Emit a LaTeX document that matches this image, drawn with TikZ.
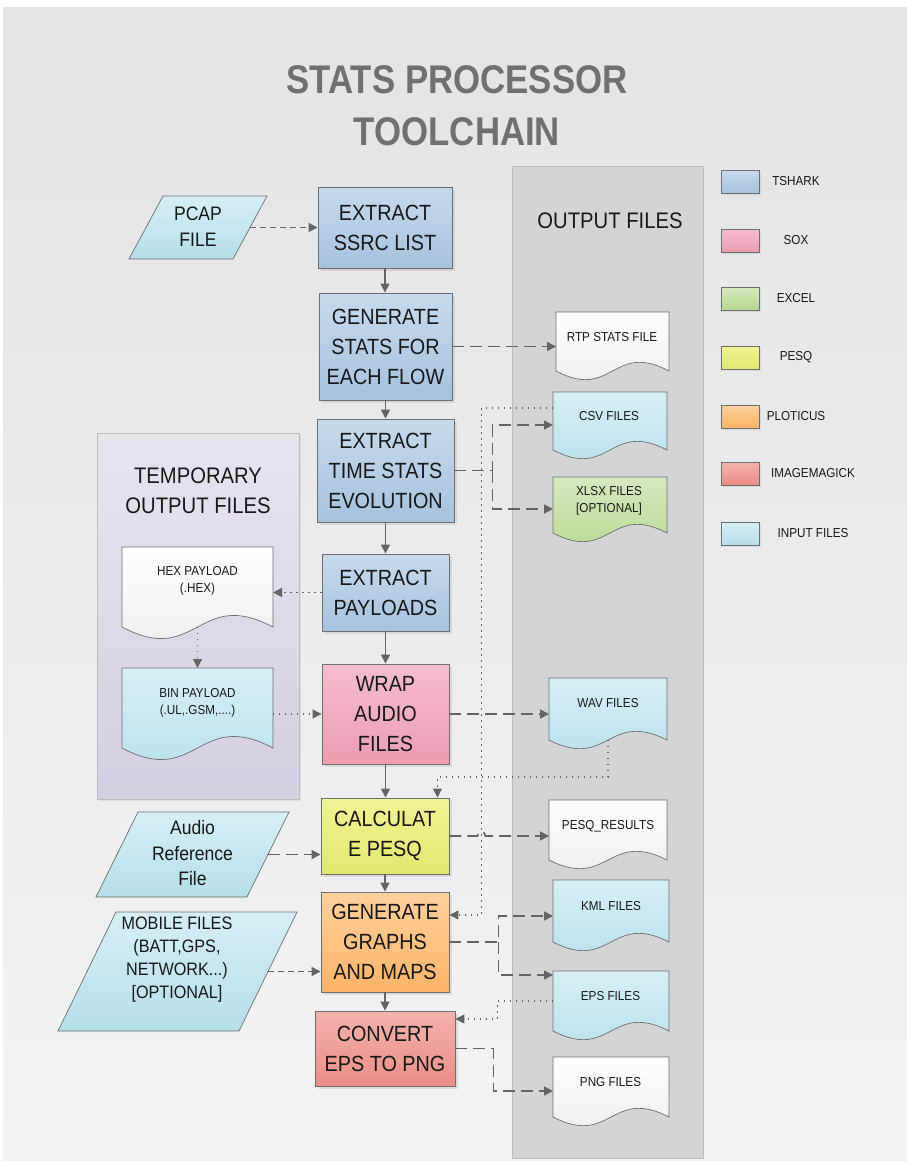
\documentclass[tikz,border=0pt]{standalone}
\usepackage{fontspec}
\setmainfont{Liberation Sans}[FakeStretch=0.9]
\newfontfamily\titlefont{Liberation Sans}[FakeStretch=0.87]
\usetikzlibrary{arrows.meta,calc,shadows}

\definecolor{bgtop}{HTML}{E3E4E6}
\definecolor{bgbot}{HTML}{F3F3F4}
\definecolor{ink}{HTML}{181818}
\definecolor{titlegray}{HTML}{707070}
\definecolor{linegray}{HTML}{646464}
\definecolor{edge}{HTML}{6E6E6E}
\definecolor{tsharkA}{HTML}{C6DAED}
\definecolor{tsharkB}{HTML}{A6C2DD}
\definecolor{soxA}{HTML}{F5BDCB}
\definecolor{soxB}{HTML}{EB9EB0}
\definecolor{excelA}{HTML}{D7E9BF}
\definecolor{excelB}{HTML}{B4D78C}
\definecolor{pesqA}{HTML}{F1F393}
\definecolor{pesqB}{HTML}{E2E76E}
\definecolor{plotA}{HTML}{FED19D}
\definecolor{plotB}{HTML}{FDB366}
\definecolor{magickA}{HTML}{F4B2AC}
\definecolor{magickB}{HTML}{EA8E86}
\definecolor{inputA}{HTML}{D6EFF6}
\definecolor{inputB}{HTML}{B5DFEA}
\definecolor{paperA}{HTML}{FFFFFF}
\definecolor{paperB}{HTML}{EBEBEB}
\definecolor{tempA}{HTML}{E8E3EF}
\definecolor{tempB}{HTML}{D6CEE2}
\definecolor{outfill}{HTML}{D3D4D6}
\definecolor{panelline}{HTML}{BDBDBD}

% document symbol with a wavy lower edge, drawn round an invisible frame node
\newcommand\docshape[4]{%
  \path[draw=edge, line width=0.7pt, top color=#2, bottom color=#3]
    (#1.north west) -- (#1.north east) -- (#1.south east)
    .. controls ($(#1.south)+(0,-#4)$) and ($(#1.south)+(0,#4)$) .. (#1.south west) -- cycle;}
% slanted input symbol round an invisible frame node
\newcommand\parashape[4]{%
  \path[draw=edge, line width=0.7pt, top color=#3, bottom color=#4]
    ($(#1.north west)+(#2,0)$) -- (#1.north east) -- ($(#1.south east)+(-#2,0)$)
    -- (#1.south west) -- cycle;}

\begin{document}
\begin{tikzpicture}[x=1pt,y=-1pt,
  proc/.style={draw=edge, line width=0.9pt, inner sep=0pt, align=center, text=ink,
    font=\fontsize{22}{30}\selectfont,
    drop shadow={shadow xshift=2.5pt, shadow yshift=-2.5pt, opacity=0.18}},
  frame/.style={inner sep=0pt, outer sep=0pt},
  doctext/.style={font=\fontsize{13}{17}\selectfont, text=ink, align=center},
  intext/.style={text=ink, align=center},
  legbox/.style={draw=edge, line width=0.8pt, minimum width=38pt, minimum height=23pt,
    inner sep=0pt, drop shadow={shadow xshift=2pt, shadow yshift=-2pt, opacity=0.15}},
  legtext/.style={font=\fontsize{13}{15}\selectfont, text=ink},
  flow/.style={draw=linegray, line width=1.6pt, -{Triangle[length=9pt,width=9pt]}},
  dlong/.style={flow, line width=1.7pt, dash pattern=on 12pt off 6pt},
  dshort/.style={flow, dash pattern=on 6pt off 4pt},
  dots/.style={flow, line width=1.3pt, dash pattern=on 1.3pt off 4.7pt}]

\useasboundingbox (0,0) rectangle (907,1162);
\fill[white] (0,0) rectangle (907,1162);
\path[top color=bgtop, bottom color=bgbot] (3,7) rectangle (907,1160);

% title
\node[font=\titlefont\bfseries\fontsize{40}{52}\selectfont, text=titlegray, align=center]
  (title) at (457,106) {STATS PROCESSOR\\TOOLCHAIN};

% output files panel
\node[frame, draw=panelline, fill=outfill, line width=0.8pt, minimum width=191pt, minimum height=992pt]
  (outp) at (607.5,662) {};
\node[intext, font=\fontsize{22.5}{28}\selectfont] (outp-t) at (610,221) {OUTPUT FILES};

% temporary output files panel
\node[frame, draw=panelline, line width=0.8pt, top color=tempA, bottom color=tempB,
  minimum width=202pt, minimum height=366pt,
  drop shadow={shadow xshift=2pt, shadow yshift=-2pt, opacity=0.15}] (tmp) at (198,616) {};
\node[intext, font=\fontsize{22.5}{30}\selectfont] (tmp-t) at (198,491) {TEMPORARY\\OUTPUT FILES};

% processing steps
\node[proc, top color=tsharkA, bottom color=tsharkB, minimum width=134pt, minimum height=81pt]
  (b1) at (385,227.5) {EXTRACT\\SSRC LIST};
\node[proc, top color=tsharkA, bottom color=tsharkB, minimum width=133pt, minimum height=107pt]
  (b2) at (385.5,346.5) {GENERATE\\STATS FOR\\EACH FLOW};
\node[proc, top color=tsharkA, bottom color=tsharkB, minimum width=137pt, minimum height=103pt]
  (b3) at (385.5,470.5) {EXTRACT\\TIME STATS\\EVOLUTION};
\node[proc, top color=tsharkA, bottom color=tsharkB, minimum width=127pt, minimum height=77pt]
  (b4) at (385.5,592.5) {EXTRACT\\PAYLOADS};
\node[proc, top color=soxA, bottom color=soxB, minimum width=127pt, minimum height=100pt]
  (b5) at (385.5,714) {WRAP\\AUDIO\\FILES};
\node[proc, top color=pesqA, bottom color=pesqB, minimum width=128pt, minimum height=76pt]
  (b6) at (385,836) {CALCULAT\\E PESQ};
\node[proc, top color=plotA, bottom color=plotB, minimum width=128pt, minimum height=100pt]
  (b7) at (385,942) {GENERATE\\GRAPHS\\AND MAPS};
\node[proc, top color=magickA, bottom color=magickB, minimum width=140pt, minimum height=75pt]
  (b8) at (385,1048.5) {CONVERT\\EPS TO PNG};

% input files
\node[frame, minimum width=138pt, minimum height=63pt] (pcap) at (198,227.5) {};
\parashape{pcap}{34}{inputA}{inputB}
\node[intext, font=\fontsize{19.5}{26}\selectfont] (pcap-t) at (198,227) {PCAP\\FILE};

\node[frame, minimum width=193pt, minimum height=85pt] (audio) at (192.5,854.5) {};
\parashape{audio}{42}{inputA}{inputB}
\node[intext, font=\fontsize{19.5}{25.5}\selectfont] (audio-t) at (192.5,853.5) {Audio\\Reference\\File};

\node[frame, minimum width=239pt, minimum height=119pt] (mobile) at (177.5,971.5) {};
\parashape{mobile}{58}{inputA}{inputB}
\node[intext, font=\fontsize{18}{23}\selectfont] (mobile-t) at (177,960) {MOBILE FILES\\(BATT,GPS,\\NETWORK...)\\{[OPTIONAL]}};

% temporary documents
\node[frame, minimum width=151pt, minimum height=80pt] (hex) at (197.5,587) {};
\docshape{hex}{paperA}{paperB}{40}
\node[doctext] (hex-t) at (197.5,580.5) {HEX PAYLOAD\\(.HEX)};
\node[frame, minimum width=151pt, minimum height=80pt] (bin) at (197.5,708) {};
\docshape{bin}{inputA}{inputB}{40}
\node[doctext] (bin-t) at (197.5,703) {BIN PAYLOAD\\(.UL,.GSM,....)};

% output documents
\node[frame, minimum width=113pt, minimum height=59pt] (rtp) at (612.5,341.5) {};
\docshape{rtp}{paperA}{paperB}{30}
\node[doctext] (rtp-t) at (612,337) {RTP STATS FILE};
\node[frame, minimum width=114pt, minimum height=58pt] (csv) at (610,421) {};
\docshape{csv}{inputA}{inputB}{30}
\node[doctext] (csv-t) at (609,416) {CSV FILES};
\node[frame, minimum width=114pt, minimum height=56pt] (xlsx) at (610,505) {};
\docshape{xlsx}{excelA}{excelB}{30}
\node[doctext] (xlsx-t) at (609,500.5) {XLSX FILES\\{[OPTIONAL]}};
\node[frame, minimum width=118pt, minimum height=62pt] (wav) at (608,709) {};
\docshape{wav}{inputA}{inputB}{30}
\node[doctext] (wav-t) at (608,703) {WAV FILES};
\node[frame, minimum width=118pt, minimum height=60pt] (pesq) at (608,830) {};
\docshape{pesq}{paperA}{paperB}{30}
\node[doctext] (pesq-t) at (608,826) {PESQ\_RESULTS};
\node[frame, minimum width=116pt, minimum height=62pt] (kml) at (611,911) {};
\docshape{kml}{inputA}{inputB}{30}
\node[doctext] (kml-t) at (611,906) {KML FILES};
\node[frame, minimum width=116pt, minimum height=60pt] (eps) at (611,1001) {};
\docshape{eps}{inputA}{inputB}{30}
\node[doctext] (eps-t) at (610.5,996) {EPS FILES};
\node[frame, minimum width=116pt, minimum height=60pt] (png) at (611,1087) {};
\docshape{png}{paperA}{paperB}{30}
\node[doctext] (png-t) at (610.5,1082) {PNG FILES};

% main chain
\draw[flow] (b1.south) -- (b1.south |- b2.north);
\draw[flow] (b2.south) -- (b2.south |- b3.north);
\draw[flow] (b3.south) -- (b3.south |- b4.north);
\draw[flow] (b4.south) -- (b4.south |- b5.north);
\draw[flow] (b5.south) -- (b5.south |- b6.north);
\draw[flow] (b6.south) -- (b6.south |- b7.north);
\draw[flow] (b7.south) -- (b7.south |- b8.north);

% inputs into the chain
\draw[dshort] ($(pcap.east)+(-17,0)$) -- (pcap.east -| b1.west);
\draw[dlong] ($(audio.east)+(-21,0)$) -- (audio.east -| b6.west);
\draw[dshort] ($(mobile.east)+(-29,0)$) -- (mobile.east -| b7.west);

% temporary files
\draw[dots] (b4.west) -- (b4.west -| hex.east);
\draw[dots] (hex.south) -- (bin.north);
\draw[dots] (bin.east |- b5.west) -- (b5.west);

% outputs
\draw[dlong] (b2.east) -- (b2.east -| rtp.west);
\coordinate (j3) at ($(b3.east)+(38,0)$);
\draw[dlong] (b3.east) -- (j3) |- ($(csv.west)+(0,4)$);
\draw[dlong] (j3) |- ($(xlsx.west)+(0,4)$);
\draw[dots] ($(csv.north west)+(0,16)$) -| ($(b7.east)+(32,-27)$) -- ($(b7.east)+(0,-27)$);
\draw[dlong] (b5.east) -- (b5.east -| wav.west);
\draw[dots] (wav.south) -- ($(wav.south)+(0,37)$) -| ($(b6.north east)+(-12,0)$);
\draw[dlong] (b6.east) -- ++(28,0) arc (180:360:4) -- (b6.east -| pesq.west);
\coordinate (j7) at ($(b7.east)+(49,0)$);
\draw[dlong] (b7.east) -- (j7) |- ($(kml.west)+(0,5)$);
\draw[dlong] (j7) |- ($(eps.north west)+(0,4)$);
\draw[dots] (eps.west) -| ($(b8.east)+(42,-29.5)$) -- ($(b8.east)+(0,-29.5)$);
\draw[dlong] (b8.east) -- ($(b8.east)+(38,0)$) |- ($(png.west)+(0,4)$);

% legend
\node[legbox, top color=tsharkA, bottom color=tsharkB] (k1) at (740,181.5) {};
\node[legtext] (k1-t) at (796,181.5) {TSHARK};
\node[legbox, top color=soxA, bottom color=soxB] (k2) at (740,240.5) {};
\node[legtext] (k2-t) at (796,240.5) {SOX};
\node[legbox, top color=excelA, bottom color=excelB] (k3) at (740,298.5) {};
\node[legtext] (k3-t) at (796,298.5) {EXCEL};
\node[legbox, top color=pesqA, bottom color=pesqB] (k4) at (740,357.5) {};
\node[legtext] (k4-t) at (796,357.5) {PESQ};
\node[legbox, top color=plotA, bottom color=plotB] (k5) at (740,416.5) {};
\node[legtext] (k5-t) at (796,416.5) {PLOTICUS};
\node[legbox, top color=magickA, bottom color=magickB] (k6) at (740,473.5) {};
\node[legtext] (k6-t) at (813,473.5) {IMAGEMAGICK};
\node[legbox, top color=inputA, bottom color=inputB] (k7) at (740,533.5) {};
\node[legtext] (k7-t) at (813,533.5) {INPUT FILES};

\end{tikzpicture}
\end{document}
